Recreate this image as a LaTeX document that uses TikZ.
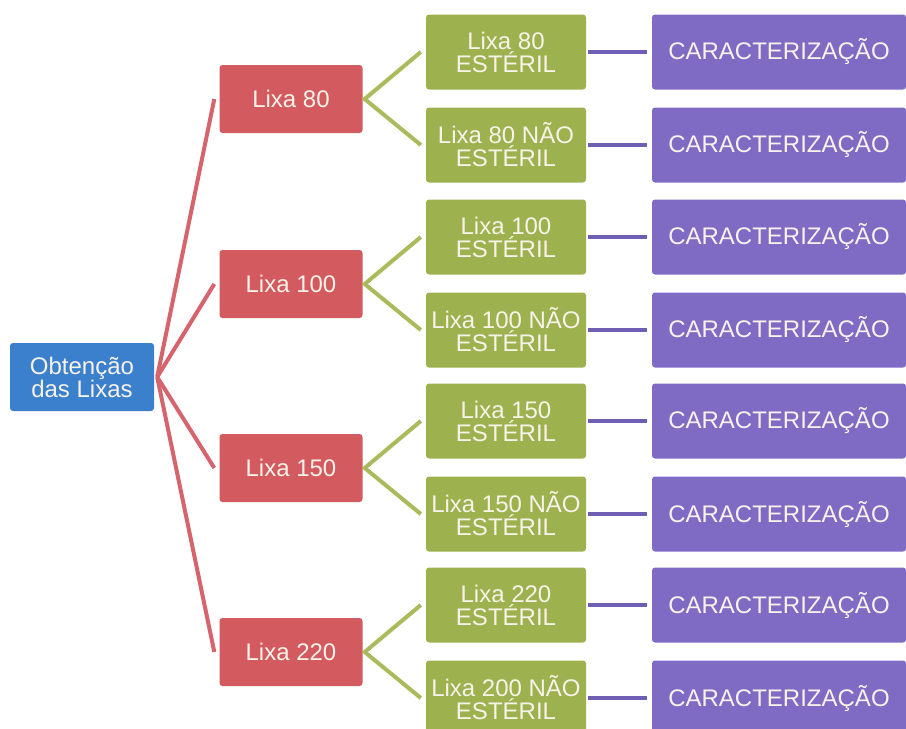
\documentclass[tikz,border=0pt]{standalone}
\usepackage{fontspec}
\setmainfont{Liberation Sans}
\usepackage{xcolor}
\usetikzlibrary{positioning}

\definecolor{rootblue}{HTML}{3B80CC}
\definecolor{lixared}{HTML}{D35A5E}
\definecolor{estgreen}{HTML}{9DB24F}
\definecolor{carpurple}{HTML}{7F6AC4}
\definecolor{redline}{HTML}{D6646C}
\definecolor{greenline}{HTML}{A9BB5B}
\definecolor{purpleline}{HTML}{6E5EB4}
\definecolor{boxtext}{HTML}{F7F3EA}

\begin{document}
\begin{tikzpicture}[x=1pt,y=-1pt,font=\fontsize{24}{23}\selectfont,
    box/.style={rounded corners=3pt,text=boxtext,align=center,inner sep=0pt,minimum height=68pt},
    raiz/.style={box,fill=rootblue,minimum width=144pt},
    lixa/.style={box,fill=lixared,minimum width=143pt},
    ester/.style={box,fill=estgreen,minimum width=160pt,minimum height=75pt},
    carac/.style={box,fill=carpurple,minimum width=254pt,minimum height=75pt},
    ramo/.style={line width=4pt}]
    \useasboundingbox (0,0) rectangle (906,729);
    \node[raiz] (raiz) at (82,377) {Obtenção\\das Lixas};
    \foreach \n/\m/\y in {80/80/99,100/100/284,150/150/468,220/200/652}{
        \node[lixa] (lixa\n) at (291,\y) {Lixa \n};
        \node[ester] (est\n) at (506,\y-47) {Lixa \n\\ESTÉRIL};
        \node[ester] (nest\n) at (506,\y+46) {Lixa \m{} NÃO\\ESTÉRIL};
        \node[carac] (carest\n) at (779,\y-47) {CARACTERIZAÇÃO};
        \node[carac] (carnest\n) at (779,\y+46) {CARACTERIZAÇÃO};
        \draw[ramo,redline] ([xshift=3pt]raiz.east) -- ([xshift=-5pt]lixa\n.west);
        \draw[ramo,greenline] ([xshift=-5pt]est\n.west) -- ([xshift=2pt]lixa\n.east)
            -- ([xshift=-5pt]nest\n.west);
        \draw[ramo,purpleline] ([xshift=2pt]est\n.east) -- ([xshift=-5pt]carest\n.west);
        \draw[ramo,purpleline] ([xshift=2pt]nest\n.east) -- ([xshift=-5pt]carnest\n.west);
    }
\end{tikzpicture}
\end{document}
